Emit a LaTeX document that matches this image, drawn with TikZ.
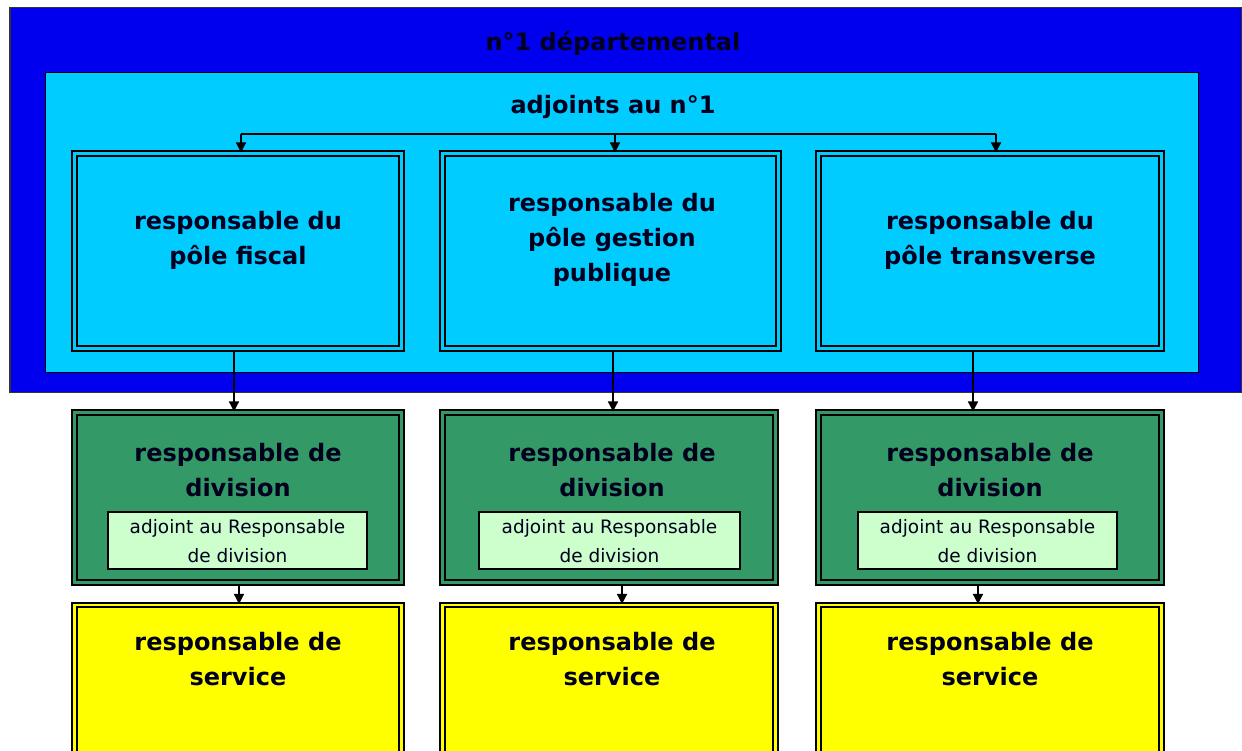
\documentclass[tikz,border=0pt]{standalone}
\usepackage{fontspec}
\setmainfont{DejaVu Sans}
\usetikzlibrary{arrows.meta}
\definecolor{bleu}{RGB}{0,0,238}
\definecolor{cyanbox}{RGB}{0,204,255}
\definecolor{vert}{RGB}{51,153,102}
\definecolor{vertclair}{RGB}{204,255,204}
\definecolor{jaune}{RGB}{255,255,0}
\definecolor{encre}{RGB}{0,0,30}
\tikzset{
  x=1pt, y=-1pt,
  frame/.style={draw=black, line width=1.6pt, inner sep=0pt},
  bluebox/.style={frame, draw=black!80, fill=bleu},
  cyanframe/.style={frame, fill=cyanbox},
  dblbox/.style={draw=black, line width=2.1pt, double distance=2.4pt, inner sep=0pt},
  polebox/.style={dblbox, fill=cyanbox, double=cyanbox},
  greenbox/.style={dblbox, fill=vert, double=vert},
  yellowbox/.style={dblbox, fill=jaune, double=jaune},
  smallbox/.style={draw=black, line width=1.2pt, fill=vertclair, inner sep=0pt},
  bigtext/.style={font=\fontsize{24}{35}\selectfont\bfseries, text=encre, align=center},
  smalltext/.style={font=\fontsize{18.5}{29}\selectfont, text=encre, align=center},
  arr/.style={line width=1.5pt, -{Triangle[length=10pt,width=10pt]}},
  bus/.style={line width=1.5pt}
}
\begin{document}
\begin{tikzpicture}
\useasboundingbox (0,0) rectangle (1242,751);
% outer frames
\node[bluebox, minimum width=1232, minimum height=385] (dep) at (626,200) {};
\node[bigtext] (depT) at (613,43) {n°1 départemental};
\node[cyanframe, minimum width=1153, minimum height=300] (adj) at (622,222.5) {};
\node[bigtext] (adjT) at (613,107) {adjoints au n°1};
% pole boxes
\node[polebox, minimum width=327, minimum height=195] (p1) at (238,251) {};
\node[polebox, minimum width=336, minimum height=195] (p2) at (610.5,251) {};
\node[polebox, minimum width=343, minimum height=195] (p3) at (990,251) {};
\node[bigtext] (p1T) at (238,240) {responsable du\\pôle f{}iscal};
\node[bigtext] (p2T) at (612,240) {responsable du\\pôle gestion\\publique};
\node[bigtext] (p3T) at (990,240) {responsable du\\pôle transverse};
% division boxes
\node[greenbox, minimum width=327, minimum height=170] (g1) at (238,497.5) {};
\node[greenbox, minimum width=333, minimum height=170] (g2) at (609,497.5) {};
\node[greenbox, minimum width=343, minimum height=170] (g3) at (990,497.5) {};
\node[bigtext] (g1T) at (238,470) {responsable de\\division};
\node[bigtext] (g2T) at (612,470) {responsable de\\division};
\node[bigtext] (g3T) at (990,470) {responsable de\\division};
\node[smallbox, minimum width=259, minimum height=57] (l1) at (237.5,540.5) {};
\node[smallbox, minimum width=261, minimum height=57] (l2) at (609.5,540.5) {};
\node[smallbox, minimum width=259, minimum height=57] (l3) at (987.5,540.5) {};
\node[smalltext] (l1T) at (237.5,541) {adjoint au Responsable\\de division};
\node[smalltext] (l2T) at (609.5,541) {adjoint au Responsable\\de division};
\node[smalltext] (l3T) at (987.5,541) {adjoint au Responsable\\de division};
% service boxes
\node[yellowbox, minimum width=327, minimum height=150] (y1) at (238,680) {};
\node[yellowbox, minimum width=333, minimum height=150] (y2) at (609,680) {};
\node[yellowbox, minimum width=343, minimum height=150] (y3) at (990,680) {};
\node[bigtext] (y1T) at (238,659) {responsable de\\service};
\node[bigtext] (y2T) at (612,659) {responsable de\\service};
\node[bigtext] (y3T) at (990,659) {responsable de\\service};
% bus from adjoints
\coordinate (busL) at (241,134);
\coordinate (busM) at (615,134);
\coordinate (busR) at (996,134);
\draw[bus] (busL) -- (busR);
\draw[arr] (busL) -- (busL |- p1.north);
\draw[arr] (busM) -- (busM |- p2.north);
\draw[arr] (busR) -- (busR |- p3.north);
% pole -> division
\draw[arr] ([xshift=-4pt]p1.south) -- ([xshift=-4pt]g1.north);
\draw[arr] ([xshift=2.5pt]p2.south) -- ([xshift=2.5pt]p2.south |- g2.north);
\draw[arr] ([xshift=-17pt]p3.south) -- ([xshift=-17pt]g3.north);
% division -> service
\draw[arr] ([xshift=1pt]g1.south) -- ([xshift=1pt]y1.north);
\draw[arr] ([xshift=13pt]g2.south) -- ([xshift=13pt]y2.north);
\draw[arr] ([xshift=-12pt]g3.south) -- ([xshift=-12pt]y3.north);
\end{tikzpicture}
\end{document}
